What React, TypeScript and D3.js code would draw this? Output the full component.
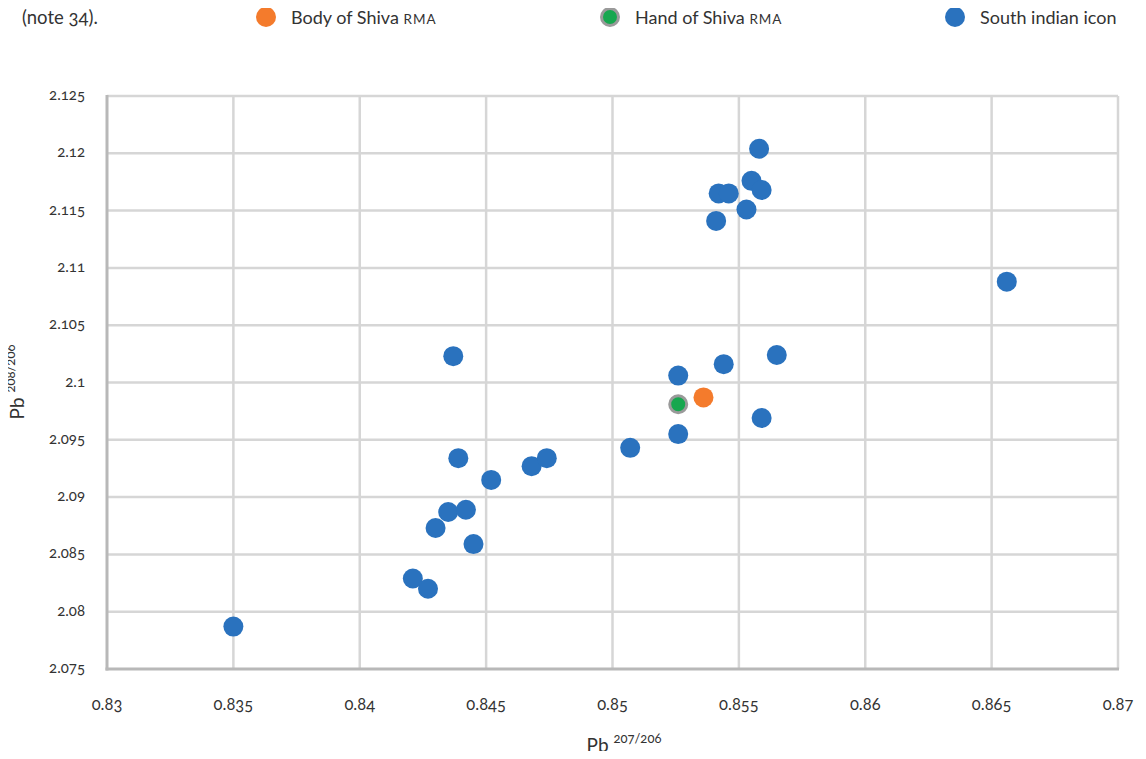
import { useEffect, useRef } from 'react';
import * as d3 from 'd3';

// South indian icon samples: Pb 207/206 and Pb 208/206
const iconX = [0.8350, 0.8421, 0.8427, 0.8430, 0.8435, 0.8442, 0.8445, 0.8439, 0.8437, 0.8452, 0.8468, 0.8474, 0.8507,
  0.8526, 0.8526, 0.8544, 0.8559, 0.8565, 0.8541, 0.8542, 0.8546, 0.8553, 0.8555, 0.8559, 0.8558, 0.8656];
const iconY = [2.0787, 2.0829, 2.0820, 2.0873, 2.0887, 2.0889, 2.0859, 2.0934, 2.1023, 2.0915, 2.0927, 2.0934, 2.0943,
  2.0955, 2.1006, 2.1016, 2.0969, 2.1024, 2.1141, 2.1165, 2.1165, 2.1151, 2.1176, 2.1168, 2.1204, 2.1088];

const bodyX = [0.8536];
const bodyY = [2.0987];
const handX = [0.8526];
const handY = [2.0981];

const xTicks = [0.83, 0.835, 0.84, 0.845, 0.85, 0.855, 0.86, 0.865, 0.87];
const yTicks = [2.075, 2.08, 2.085, 2.09, 2.095, 2.1, 2.105, 2.11, 2.115, 2.12, 2.125];

const BLUE = '#2a72be';
const ORANGE = '#f47b2c';
const GREEN = '#17a74f';
const FONT = 'Lato, "Open Sans", sans-serif';

export default function App() {
  const ref = useRef<SVGSVGElement>(null);

  useEffect(() => {
    if (!ref.current) return;
    const svg = d3.select(ref.current);
    svg.selectAll('*').remove();

    const margin = { top: 96, right: 28, bottom: 90, left: 107 };
    const width = 1146;
    const height = 759;

    const x = d3.scaleLinear().domain([0.83, 0.87]).range([margin.left, width - margin.right]);
    const y = d3.scaleLinear().domain([2.075, 2.125]).range([height - margin.bottom, margin.top]);

    const g = svg.append('g').style('font-family', FONT).style('font-variant-numeric', 'oldstyle-nums');

    // gridlines
    g.append('g').selectAll('line').data(xTicks.slice(1)).join('line')
      .attr('x1', d => x(d)).attr('x2', d => x(d))
      .attr('y1', y(2.125)).attr('y2', y(2.075))
      .attr('stroke', '#d6d6d6').attr('stroke-width', 2.5);
    g.append('g').selectAll('line').data(yTicks.slice(1)).join('line')
      .attr('x1', x(0.83)).attr('x2', x(0.87))
      .attr('y1', d => y(d)).attr('y2', d => y(d))
      .attr('stroke', '#d6d6d6').attr('stroke-width', 2.5);

    // axis lines
    g.append('line')
      .attr('x1', x(0.83)).attr('x2', x(0.83)).attr('y1', y(2.125) - 1).attr('y2', y(2.075) + 1.5)
      .attr('stroke', '#b8b8b8').attr('stroke-width', 3);
    g.append('line')
      .attr('x1', x(0.83) - 1.5).attr('x2', x(0.87) + 1).attr('y1', y(2.075)).attr('y2', y(2.075))
      .attr('stroke', '#b8b8b8').attr('stroke-width', 3);

    // tick labels
    const fmt = (d: number) => String(+d.toFixed(3));
    g.append('g').selectAll('text').data(yTicks).join('text')
      .attr('x', x(0.83) - 22).attr('y', d => y(d) + 4)
      .attr('text-anchor', 'end').attr('font-size', 15).attr('fill', '#333')
      .text(d => fmt(d));
    g.append('g').selectAll('text').data(xTicks).join('text')
      .attr('x', d => x(d)).attr('y', y(2.075) + 41)
      .attr('text-anchor', 'middle').attr('font-size', 16.5).attr('fill', '#333')
      .text(d => fmt(d));

    // axis titles
    const xt = g.append('text').attr('x', 624).attr('y', 752).attr('text-anchor', 'middle')
      .attr('fill', '#333').attr('font-size', 19);
    xt.append('tspan').text('Pb ');
    xt.append('tspan').attr('font-size', 13).attr('dy', -9).text('207/206');

    const yt = g.append('text').attr('transform', 'translate(24,382) rotate(-90)').attr('text-anchor', 'middle')
      .attr('fill', '#333').attr('font-size', 19);
    yt.append('tspan').text('Pb ');
    yt.append('tspan').attr('font-size', 13).attr('dy', -9).text('208/206');

    // points
    const r = 10;
    g.append('g').selectAll('circle').data(d3.range(iconX.length)).join('circle')
      .attr('cx', i => x(iconX[i])).attr('cy', i => y(iconY[i])).attr('r', r).attr('fill', BLUE);
    g.append('g').selectAll('circle').data(d3.range(bodyX.length)).join('circle')
      .attr('cx', i => x(bodyX[i])).attr('cy', i => y(bodyY[i])).attr('r', r).attr('fill', ORANGE);
    g.append('g').selectAll('circle').data(d3.range(handX.length)).join('circle')
      .attr('cx', i => x(handX[i])).attr('cy', i => y(handY[i])).attr('r', r - 1.5).attr('fill', GREEN)
      .attr('stroke', '#9a9a9a').attr('stroke-width', 3);

    // legend
    g.append('text').attr('x', 22).attr('y', 24).attr('font-size', 18.5).attr('fill', '#333').text('(note 34).');
    const legend = [
      { label: 'Body of Shiva', sc: 'RMA', color: ORANGE, stroke: null, cx: 266 },
      { label: 'Hand of Shiva', sc: 'RMA', color: GREEN, stroke: '#9a9a9a', cx: 610 },
      { label: 'South indian icon', sc: '', color: BLUE, stroke: null, cx: 955 },
    ];
    legend.forEach(l => {
      const c = g.append('circle').attr('cx', l.cx).attr('cy', 17).attr('fill', l.color)
        .attr('r', l.stroke ? 8.5 : 10);
      if (l.stroke) c.attr('stroke', l.stroke).attr('stroke-width', 3);
      const t = g.append('text').attr('x', l.cx + 25).attr('y', 24).attr('font-size', 18).attr('fill', '#333');
      t.append('tspan').text(l.label + ' ');
      if (l.sc) t.append('tspan').text(l.sc).attr('font-size', 13.5).style('letter-spacing', '1px');
    });
  }, []);

  return (
    <div style={{ margin: -8 }}>
      <svg ref={ref} width={1146} height={759} style={{ display: 'block', background: '#fff' }} />
    </div>
  );
}
